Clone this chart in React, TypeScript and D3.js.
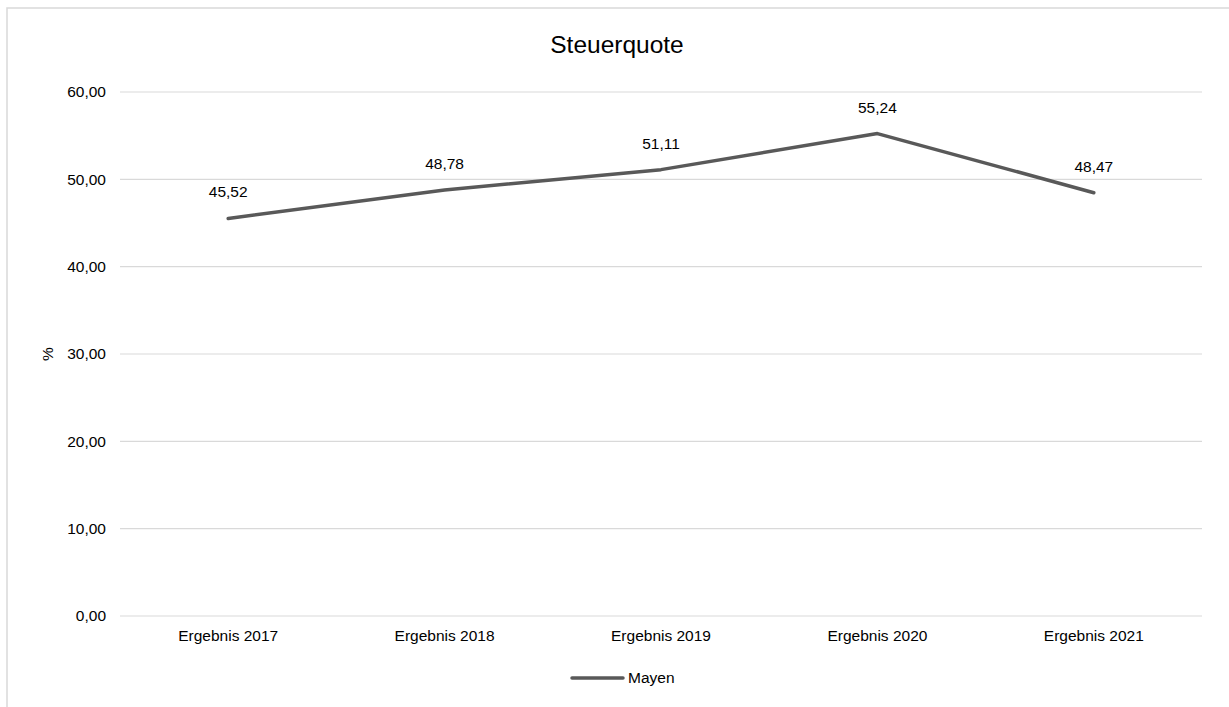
import * as d3 from 'd3'
import { useEffect, useRef } from "react";

const categories = ['Ergebnis 2017', 'Ergebnis 2018', 'Ergebnis 2019', 'Ergebnis 2020', 'Ergebnis 2021'];
const values = [45.52, 48.78, 51.11, 55.24, 48.47];
const yTicks = [0, 10, 20, 30, 40, 50, 60];
const seriesName = 'Mayen';

const fmt = (v: number) => v.toFixed(2).replace('.', ',');

const App = () => {
  const svgRef = useRef(null);

  useEffect(() => {
    const svg = d3.select(svgRef.current);
    svg.selectAll('*').remove();
    const font = 'Liberation Sans, Arial, sans-serif';
    const fs = 15.5;

    // outer frame (chart area is cropped at right/bottom)
    svg.append('rect')
      .attr('x', 7).attr('y', 8)
      .attr('width', 1400).attr('height', 900)
      .attr('fill', 'white')
      .attr('stroke', '#d9d9d9').attr('stroke-width', 1.5);

    const left = 120, right = 1202, top = 92, bottom = 616;

    const x = d3.scaleBand().domain(categories).range([left, right]);
    const y = d3.scaleLinear().domain([0, 60]).range([bottom, top]);

    // grid lines
    svg.append('g').selectAll('line')
      .data(yTicks)
      .enter()
      .append('line')
      .attr('x1', left).attr('x2', right)
      .attr('y1', d => y(d)).attr('y2', d => y(d))
      .attr('stroke', '#d9d9d9').attr('stroke-width', 1.2);

    // y tick labels
    svg.append('g').selectAll('text')
      .data(yTicks)
      .enter()
      .append('text')
      .attr('x', 106)
      .attr('y', d => y(d))
      .attr('dy', '0.35em')
      .attr('text-anchor', 'end')
      .attr('font-family', font).attr('font-size', fs)
      .attr('fill', '#000')
      .text(d => fmt(d));

    // x labels
    svg.append('g').selectAll('text')
      .data(categories)
      .enter()
      .append('text')
      .attr('x', d => x(d) + x.bandwidth() / 2)
      .attr('y', bottom + 25)
      .attr('text-anchor', 'middle')
      .attr('font-family', font).attr('font-size', fs)
      .attr('fill', '#000')
      .text(d => d);

    // line
    const line = d3.line<number>()
      .x((d, i) => x(categories[i]) + x.bandwidth() / 2)
      .y(d => y(d));

    svg.append('path')
      .datum(values)
      .attr('d', line)
      .attr('fill', 'none')
      .attr('stroke', '#595959')
      .attr('stroke-width', 3.5)
      .attr('stroke-linejoin', 'round')
      .attr('stroke-linecap', 'round');

    // data labels
    svg.append('g').selectAll('text')
      .data(values)
      .enter()
      .append('text')
      .attr('x', (d, i) => x(categories[i]) + x.bandwidth() / 2)
      .attr('y', d => y(d) - 21)
      .attr('text-anchor', 'middle')
      .attr('font-family', font).attr('font-size', fs)
      .attr('fill', '#000')
      .text(d => fmt(d));

    // title
    svg.append('text')
      .attr('x', 617).attr('y', 53)
      .attr('text-anchor', 'middle')
      .attr('font-family', font).attr('font-size', 24.5)
      .attr('fill', '#000')
      .text('Steuerquote');

    // y axis title
    svg.append('text')
      .attr('transform', `translate(53, ${(top + bottom) / 2}) rotate(-90)`)
      .attr('text-anchor', 'middle')
      .attr('font-family', font).attr('font-size', fs)
      .attr('fill', '#000')
      .text('%');

    // legend
    svg.append('line')
      .attr('x1', 572).attr('x2', 623)
      .attr('y1', 678).attr('y2', 678)
      .attr('stroke', '#595959').attr('stroke-width', 3.5)
      .attr('stroke-linecap', 'round');
    svg.append('text')
      .attr('x', 628).attr('y', 678)
      .attr('dy', '0.35em')
      .attr('font-family', font).attr('font-size', fs)
      .attr('fill', '#000')
      .text(seriesName);
  }, []);

  return (
    <svg ref={svgRef} width={1229} height={707}
      style={{ position: 'absolute', left: 0, top: 0, background: 'white' }} />
  );
};

export default App;
